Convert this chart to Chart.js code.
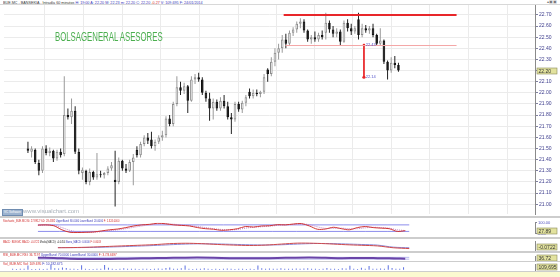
<!DOCTYPE html>
<html>
<head>
<meta charset="utf-8">
<script src="https://cdn.jsdelivr.net/npm/chart.js@4.4.1/dist/chart.umd.min.js"></script>
<style>
  html, body { margin: 0; padding: 0; background: #fff; }
  body { width: 560px; height: 277px; position: relative; overflow: hidden; font-family: "Liberation Sans", Arial, sans-serif; }
  canvas { position: absolute; left: 0; }
  .sep { position: absolute; left: 0; width: 560px; background: #cdcdcd; }
  .ttl { position: absolute; left: 3px; font-size: 4px; line-height: 4px; white-space: nowrap; transform-origin: 0 0; }
  .r { color: #d02828; } .b { color: #3838b8; } .k { color: #333; }
</style>
</head>
<body>
<div class="ttl" style="top:0.5px;transform:scaleX(0.93)"><span class="k">BUE.MC - BANSEKIA - Intradía 60 minutos</span> <span class="b">H: 19:00 A: 22.20 M: 22.23 m: 22.20 C: 22.20</span> <span class="r">-0.27</span> <span class="b">V: 109.695 F: 24/01/2014</span></div>
<div style="position:absolute;left:0;top:4px;width:560px;height:1px;background:#d8d8d8"></div>
<div style="position:absolute;right:3px;top:0;font-size:4px;line-height:4px;color:#777">▴▣▣</div>

<canvas id="main" width="560" height="218" style="top:0"></canvas>
<div style="position:absolute;left:55px;top:30px;font-size:12px;line-height:14px;color:#4caf50;white-space:nowrap;transform:scaleX(0.65);transform-origin:0 0">BOLSAGENERAL ASESORES</div>
<div style="position:absolute;left:2px;top:209px;width:19px;height:5px;background:#9db3cf;border:0.5px solid #6f8cb0;font-size:3px;line-height:5px;color:#fff;text-align:center">VC Software</div>
<div style="position:absolute;left:23px;top:208px;font-size:6px;line-height:7px;color:#a8b0b8;white-space:nowrap">www.visualchart.com</div>

<div class="sep" style="top:216px;height:2px"></div>
<canvas id="stoch" width="560" height="19" style="top:218px"></canvas>
<div class="ttl" style="top:219px;transform:scaleX(0.63)"><span class="r">Stochastic_BUE.MC 84: 27.8912 %D: 28.4382</span> <span class="b">UpperBand: 80.0000 LowerBand: 20.0000</span> <span class="r">F: 1.324.0000</span></div>

<div class="sep" style="top:237px;height:2px"></div>
<canvas id="macd" width="560" height="12" style="top:239px"></canvas>
<div class="ttl" style="top:239.5px;transform:scaleX(0.62)"><span class="r">MACD_BUE.MC MACD: -0.0722</span> <span class="k">Media(MACD): -0.0454</span> <span class="b">Barra_MACD: 0.0000</span> <span class="r">F: 0.0003</span></div>

<div class="sep" style="top:251px;height:2px"></div>
<canvas id="rsi" width="560" height="8" style="top:253px"></canvas>
<div class="ttl" style="top:253px;transform:scaleX(0.76)"><span class="r">RSI_BUE.MC RSI: 36.7197</span> <span class="b">UpperBand: 70.0000 LowerBand: 30.0000</span> <span class="r">F: 3.7/3.6697</span></div>

<div class="sep" style="top:260.5px;height:1.5px"></div>
<div style="position:absolute;left:0;top:272px;width:560px;height:5px;background:#fbf9d0"></div>
<canvas id="vol" width="560" height="15" style="top:262px"></canvas>
<div class="ttl" style="top:262px;transform:scaleX(0.82)"><span class="r">Vol_BUE.MC Vol: 109.695</span> <span class="b">F: 10.182.675</span></div>
<div class="sep" style="top:271px;height:1px"></div>

<script>
// velas horarias (una por hueco del eje)
const open = [21.50, 21.47, 21.49, 21.37, 21.30, 21.50, 21.46, 21.48, 21.41, 21.47,
  21.45, 21.80, 21.78, 21.84, 21.47, 21.28, 21.30, 21.20, 21.29, 21.24,
  21.27, 21.26, 21.28, 21.32, 21.22, 21.20, 21.39, 21.32, 21.30, 21.38,
  21.49, 21.44, 21.54, 21.60, 21.58, 21.52, 21.56, 21.60, 21.62, 21.77,
  21.72, 21.90, 22.05, 22.02, 22.06, 21.93, 22.12, 22.14, 22.12, 22.00,
  21.95, 21.86, 21.92, 21.86, 21.93, 21.88, 21.78, 21.76, 21.90, 21.85,
  21.91, 22.01, 21.97, 22.00, 21.99, 22.01, 22.21, 22.17, 22.28, 22.36,
  22.40, 22.48, 22.44, 22.54, 22.57, 22.62, 22.64, 22.56, 22.48, 22.50,
  22.48, 22.52, 22.54, 22.63, 22.57, 22.53, 22.55, 22.46, 22.63, 22.58,
  22.55, 22.66, 22.52, 22.58, 22.56, 22.58, 22.52, 22.44, 22.47, 22.28,
  22.20, 22.27, 22.25];
const close = [21.48, 21.50, 21.38, 21.30, 21.50, 21.46, 21.48, 21.41, 21.47, 21.44,
  21.80, 21.78, 21.84, 21.47, 21.30, 21.31, 21.20, 21.29, 21.24, 21.27,
  21.26, 21.28, 21.32, 21.35, 21.20, 21.39, 21.32, 21.30, 21.38, 21.42,
  21.44, 21.54, 21.60, 21.57, 21.52, 21.56, 21.60, 21.62, 21.77, 21.72,
  21.90, 22.05, 22.02, 22.06, 21.93, 22.12, 22.14, 22.12, 22.00, 21.95,
  21.86, 21.92, 21.86, 21.93, 21.88, 21.78, 21.76, 21.90, 21.85, 21.91,
  21.96, 21.97, 22.00, 21.99, 22.01, 22.14, 22.17, 22.28, 22.36, 22.40,
  22.48, 22.44, 22.54, 22.57, 22.62, 22.64, 22.56, 22.48, 22.50, 22.48,
  22.52, 22.50, 22.63, 22.57, 22.53, 22.55, 22.46, 22.63, 22.58, 22.55,
  22.58, 22.52, 22.58, 22.56, 22.58, 22.52, 22.44, 22.47, 22.28, 22.20,
  22.27, 22.25, 22.20];
const high = [21.56, 21.52, 21.50, 21.40, 21.52, 21.53, 21.51, 21.49, 21.49, 21.50,
  22.15, 21.86, 21.95, 21.88, 21.50, 21.33, 21.31, 21.32, 21.30, 21.46,
  21.30, 21.29, 21.34, 21.38, 21.48, 21.42, 21.40, 21.36, 21.40, 21.45,
  21.52, 21.56, 21.62, 21.64, 21.65, 21.58, 21.62, 21.66, 21.79, 21.80,
  21.92, 22.15, 22.10, 22.09, 22.07, 22.15, 22.17, 22.18, 22.14, 22.02,
  22.00, 21.95, 21.94, 21.96, 21.98, 21.92, 21.82, 21.92, 21.92, 21.93,
  21.98, 22.04, 22.03, 22.03, 22.02, 22.17, 22.22, 22.32, 22.40, 22.44,
  22.52, 22.53, 22.56, 22.59, 22.64, 22.67, 22.66, 22.57, 22.52, 22.55,
  22.54, 22.56, 22.72, 22.65, 22.60, 22.58, 22.57, 22.65, 22.66, 22.62,
  22.60, 22.72, 22.62, 22.61, 22.60, 22.62, 22.53, 22.58, 22.48, 22.29,
  22.32, 22.33, 22.27];
const low = [21.46, 21.42, 21.36, 21.26, 21.28, 21.44, 21.43, 21.38, 21.39, 21.42,
  21.43, 21.76, 21.72, 21.45, 21.27, 21.22, 21.18, 21.17, 21.22, 21.22,
  21.24, 21.23, 21.26, 21.30, 20.98, 21.18, 21.30, 21.28, 21.29, 21.17,
  21.42, 21.42, 21.52, 21.54, 21.50, 21.48, 21.54, 21.57, 21.60, 21.70,
  21.70, 21.88, 21.98, 21.99, 21.82, 21.92, 22.08, 22.10, 21.98, 21.92,
  21.75, 21.76, 21.84, 21.84, 21.86, 21.76, 21.63, 21.74, 21.83, 21.82,
  21.88, 21.95, 21.95, 21.97, 21.96, 21.99, 22.10, 22.15, 22.24, 22.30,
  22.36, 22.40, 22.42, 22.51, 22.54, 22.58, 22.54, 22.46, 22.44, 22.46,
  22.46, 22.48, 22.48, 22.54, 22.50, 22.50, 22.43, 22.45, 22.55, 22.52,
  22.53, 22.48, 22.50, 22.54, 22.53, 22.50, 22.42, 22.42, 22.26, 22.12,
  22.18, 22.22, 22.19];
// volumen (miles)
const volume = [45, 30, 35, 40, 180, 30, 25, 35, 30, 40,
  220, 60, 50, 90, 70, 40, 35, 30, 190, 40,
  25, 30, 35, 40, 210, 80, 40, 30, 35, 60,
  40, 35, 45, 30, 35, 40, 30, 35, 50, 40,
  70, 90, 40, 35, 60, 180, 40, 30, 45, 35,
  60, 40, 30, 35, 30, 40, 50, 45, 30, 35,
  40, 30, 35, 30, 185, 60, 40, 50, 45, 40,
  60, 40, 45, 40, 50, 45, 55, 60, 40, 35,
  30, 35, 70, 40, 35, 30, 60, 50, 170, 35,
  30, 80, 45, 160, 35, 40, 50, 40, 190, 70,
  40, 35, 110];
// estocastico: un valor cada 2 velas desde la vela 9
const stochK = [78, 80, 72, 35, 12, 10, 12, 15, 25, 35, 42, 55, 70, 80, 85, 95, 90, 80, 75, 70,
  55, 45, 40, 30, 35, 45, 65, 60, 70, 72, 82, 80, 88, 92, 70, 40, 42, 58, 45, 35,
  55, 65, 55, 50, 45, 20, 27];
const stochD = [75, 78, 77, 55, 30, 15, 12, 13, 18, 27, 35, 45, 58, 70, 80, 88, 90, 86, 80, 74,
  65, 55, 45, 38, 34, 38, 50, 58, 63, 68, 75, 80, 84, 88, 82, 62, 48, 48, 50, 45,
  45, 53, 58, 55, 50, 35, 28];
// MACD: un valor cada 4 velas desde la vela 14
const macd = [-0.045, -0.040, -0.030, -0.015, 0.000, 0.015, 0.030, 0.055, 0.065, 0.055, 0.035, 0.020,
  0.010, 0.020, 0.045, 0.068, 0.065, 0.050, 0.030, 0.015, 0.000, -0.045, -0.065];
const macdSignal = [-0.040, -0.042, -0.038, -0.030, -0.018, -0.005, 0.010, 0.028, 0.045, 0.052, 0.048, 0.038,
  0.028, 0.022, 0.028, 0.045, 0.058, 0.058, 0.048, 0.035, 0.020, -0.030, -0.045];
// RSI: un valor cada 4 velas desde la vela 9
const rsi = [60, 58, 40, 35, 33, 38, 45, 52, 58, 62, 65, 60, 52, 48, 50, 55, 62, 66, 60, 52, 55, 53, 50, 38];

const yTicks = [21.0, 21.1, 21.2, 21.3, 21.4, 21.5, 21.6, 21.7, 21.8, 21.9, 22.0, 22.1, 22.2, 22.3, 22.4, 22.5, 22.6, 22.7];
const gridSlots = [10, 20.8, 31.3, 41.9, 52.6, 63.2, 73.7, 84.2, 94.7, 105.3, 115.8, 126.6];
const xLabelPos = [0.75, 6.3, 11.5, 15.0, 22.1, 25.1, 32.1, 35.3, 42.9, 46.4, 52.9, 56.4, 63.9, 67.2,
  74.7, 78.0, 85.5, 88.5, 96.0, 99.3, 106.5, 109.8, 117.3, 120.6, 127.3];
const xLabelText = ['11:00', '20/12/13', '11:00', '02/01/14', '14:00', '08/01/14', '14:00', '09/01/14', '14:00', '10/01/14',
  '14:00', '14/01/14', '14:00', '16/01/14', '14:00', '20/01/14', '14:00', '22/01/14', '14:00', '24/01/14',
  '14:00', '28/01/14', '14:00', '30/01/14', '14:00'];

const resistance = 22.70, support = 22.425;
const dropFrom = 22.43, dropTo = 22.14;

const FONT = '"Liberation Sans", Arial, sans-serif';
const X_MIN = -0.5, X_MAX = 133.5;

function fixWidth(s) { s.width = 25; }

// caja amarilla con el ultimo valor, en el eje derecho
function valueBox(value, text) {
    return {
        id: 'valueBox',
        afterDraw(chart) {
            const { ctx, chartArea } = chart;
            const y = Math.round(chart.scales.y.getPixelForValue(value));
            ctx.save();
            ctx.fillStyle = '#e2e29e';
            ctx.strokeStyle = '#8a8a5a';
            ctx.lineWidth = 0.6;
            ctx.fillRect(chartArea.right + 2, y - 3, 20, 6);
            ctx.strokeRect(chartArea.right + 2, y - 3, 20, 6);
            ctx.fillStyle = '#333';
            ctx.font = '5px ' + FONT;
            ctx.textBaseline = 'middle';
            ctx.fillText(text, chartArea.right + 3.5, y + 0.3);
            ctx.restore();
        }
    };
}

// etiquetas de la flecha roja
const dropNotes = {
    id: 'dropNotes',
    afterDatasetsDraw(chart) {
        const { ctx, scales } = chart;
        ctx.save();
        ctx.fillStyle = '#5050c8';
        ctx.font = '4px ' + FONT;
        ctx.textBaseline = 'middle';
        ctx.fillText(dropFrom.toFixed(2), scales.x.getPixelForValue(93.0), scales.y.getPixelForValue(dropFrom));
        ctx.fillText(dropTo.toFixed(2), scales.x.getPixelForValue(93.0), scales.y.getPixelForValue(dropTo));
        ctx.restore();
    }
};

const bodies = open.map((o, i) => ({ x: i, y: [o, close[i]] }));
const wicks = open.map((o, i) => ({ x: i, y: [low[i], high[i]] }));
const isUp = open.map((o, i) => close[i] >= o);

new Chart(document.getElementById('main'), {
    type: 'bar',
    data: {
        datasets: [
            { type: 'line', data: [{ x: 70.4, y: resistance }, { x: 118, y: resistance }], borderColor: '#e8262a', borderWidth: 2, pointRadius: 0, order: 0 },
            { type: 'line', data: [{ x: 70.9, y: support }, { x: 118, y: support }], borderColor: '#f4a6a6', borderWidth: 1, pointRadius: 0, order: 0 },
            { type: 'line', data: [{ x: 92.5, y: dropFrom }, { x: 92.5, y: dropTo }], borderColor: '#e8262a', borderWidth: 1,
              pointStyle: ['rect', 'circle'], pointRadius: 1.6, pointBackgroundColor: '#e8262a', pointBorderWidth: 0, order: 0 },
            { data: bodies, backgroundColor: isUp.map(u => u ? '#ffffff' : '#111111'), borderColor: isUp.map(u => u ? '#8c8c8c' : '#111111'),
              borderWidth: 1, borderSkipped: false, grouped: false, categoryPercentage: 1, barPercentage: 0.72, maxBarThickness: 3, order: 1 },
            { data: wicks, backgroundColor: isUp.map(u => u ? '#9a9a9a' : '#222222'), borderWidth: 0,
              grouped: false, categoryPercentage: 1, barPercentage: 0.3, maxBarThickness: 1, order: 2 }
        ]
    },
    options: {
        responsive: false,
        animation: false,
        layout: { padding: { top: 5, left: 0, right: 0, bottom: 1.5 } },
        plugins: { legend: { display: false }, tooltip: { enabled: false } },
        scales: {
            x: {
                type: 'linear', min: X_MIN, max: X_MAX,
                afterBuildTicks: s => { s.ticks = gridSlots.map(v => ({ value: v })); },
                afterFit: s => { s.height = 0; },
                ticks: { display: false },
                grid: { color: '#ebebeb', drawTicks: false },
                border: { display: false }
            },
            y: {
                position: 'right', min: 20.912, max: 22.789,
                afterBuildTicks: s => { s.ticks = yTicks.map(v => ({ value: v })); },
                afterFit: fixWidth,
                ticks: { callback: v => v.toFixed(2), font: { size: 5, family: FONT }, color: '#3c3c8c', padding: 1 },
                grid: { color: '#ebebeb', tickLength: 3, tickColor: '#8080a0' },
                border: { display: true, color: '#8a8a8a' }
            }
        }
    },
    plugins: [dropNotes, valueBox(22.20, '22.20')]
});

function hiddenX() {
    return { type: 'linear', min: X_MIN, max: X_MAX, display: false };
}
function rightY(extra) {
    return Object.assign({
        position: 'right', afterFit: fixWidth,
        ticks: { display: false },
        grid: { display: false },
        border: { display: true, color: '#8a8a8a' }
    }, extra);
}
function panelOptions(padding, yScale) {
    return {
        responsive: false, animation: false,
        layout: { padding: padding },
        plugins: { legend: { display: false }, tooltip: { enabled: false } },
        elements: { point: { radius: 0 }, line: { tension: 0.3 } },
        scales: { x: hiddenX(), y: yScale }
    };
}

// estocastico
new Chart(document.getElementById('stoch'), {
    type: 'line',
    data: {
        datasets: [
            { data: stochK.map((v, k) => ({ x: 9 + 2 * k, y: v })), borderColor: '#d03434', borderWidth: 1 },
            { data: stochD.map((v, k) => ({ x: 9 + 2 * k, y: v })), borderColor: '#c486c4', borderWidth: 1, borderDash: [1, 1] },
            { data: [{ x: 9, y: 80 }, { x: 102, y: 80 }], borderColor: '#8c8cec', borderWidth: 1 },
            { data: [{ x: 9, y: 20 }, { x: 102, y: 20 }], borderColor: '#8c8cec', borderWidth: 1 }
        ]
    },
    options: panelOptions({ top: 4.7, bottom: 2.7 }, rightY({
        min: 0, max: 100,
        afterBuildTicks: s => { s.ticks = [{ value: 0 }, { value: 100 }]; },
        ticks: { display: true, callback: v => v.toFixed(2), font: { size: 4, family: FONT }, color: '#5050c0', padding: 1 },
        grid: { display: true, drawOnChartArea: false, tickLength: 2, tickColor: '#8080a0' }
    })),
    plugins: [valueBox(27.89, '27.89')]
});

// MACD
new Chart(document.getElementById('macd'), {
    type: 'line',
    data: {
        datasets: [
            { data: macd.map((v, k) => ({ x: 14 + 4 * k, y: v })), borderColor: '#d04a4a', borderWidth: 1 },
            { data: macdSignal.map((v, k) => ({ x: 14 + 4 * k, y: v })), borderColor: '#8a8ad8', borderWidth: 1 }
        ]
    },
    options: panelOptions({ top: 2, bottom: 1 }, rightY({ min: -0.10, max: 0.12 })),
    plugins: [valueBox(-0.03, '-0.0722')]
});

// RSI
new Chart(document.getElementById('rsi'), {
    type: 'line',
    data: {
        datasets: [
            { data: rsi.map((v, k) => ({ x: 9 + 4 * k, y: v })), borderColor: '#6a44a8', borderWidth: 2 },
            { data: [{ x: 9, y: 70 }, { x: 102, y: 70 }], borderColor: '#9a9ae8', borderWidth: 0.7 },
            { data: [{ x: 9, y: 30 }, { x: 102, y: 30 }], borderColor: '#9a9ae8', borderWidth: 0.7 }
        ]
    },
    options: panelOptions({ top: 3, bottom: 0.5 }, rightY({ min: 0, max: 100 })),
    plugins: [valueBox(50, '36.72')]
});

// volumen + eje de fechas
new Chart(document.getElementById('vol'), {
    type: 'bar',
    data: {
        datasets: [
            { data: volume.map((v, i) => ({ x: i, y: v })), backgroundColor: '#5a6ee0', borderWidth: 0,
              grouped: false, categoryPercentage: 1, barPercentage: 0.3, maxBarThickness: 1 }
        ]
    },
    options: {
        responsive: false, animation: false,
        layout: { padding: { top: 2, bottom: 0 } },
        plugins: { legend: { display: false }, tooltip: { enabled: false } },
        scales: {
            x: {
                type: 'linear', min: X_MIN, max: X_MAX,
                afterBuildTicks: s => { s.ticks = xLabelPos.map(v => ({ value: v })); },
                afterFit: s => { s.height = 6; },
                ticks: {
                    autoSkip: false, maxRotation: 0, align: 'start', padding: 0.5,
                    callback: (v, i) => xLabelText[i],
                    font: { size: 4, family: FONT }, color: '#333'
                },
                grid: { display: false },
                border: { display: false }
            },
            y: rightY({ min: -60, max: 250 })
        }
    },
    plugins: [valueBox(100, '109,695')]
});
</script>
</body>
</html>
